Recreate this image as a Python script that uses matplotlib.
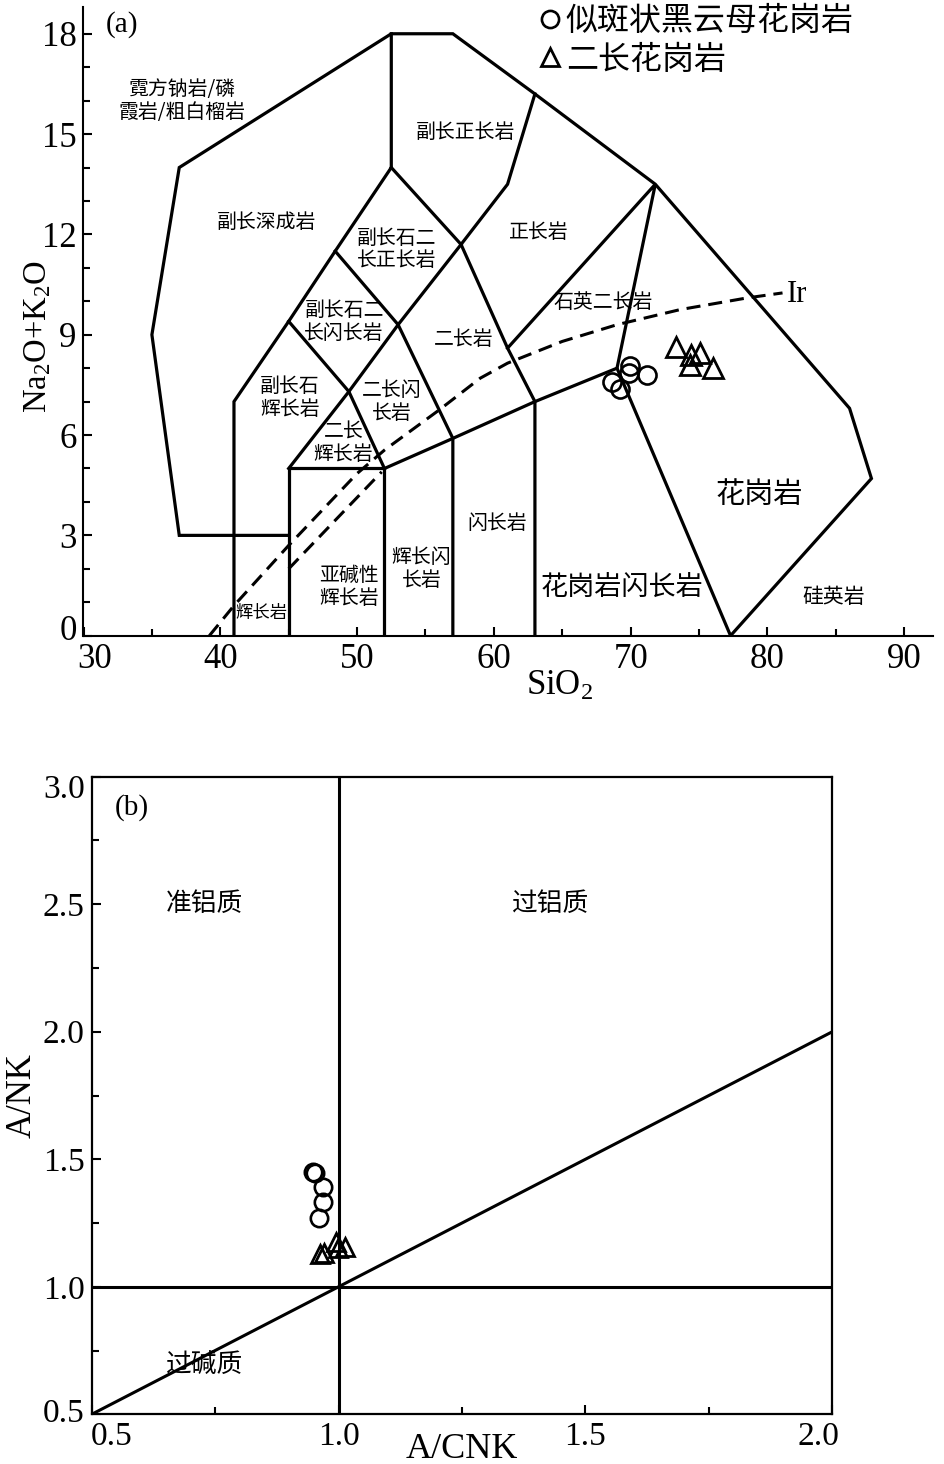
import matplotlib
matplotlib.use('Agg')
import matplotlib.pyplot as plt
import matplotlib.transforms as mtransforms
from matplotlib.ticker import MultipleLocator

plt.rcParams['font.family'] = ['Liberation Serif', 'Noto Sans CJK SC']
plt.rcParams['mathtext.fontset'] = 'custom'
plt.rcParams['mathtext.rm'] = 'Liberation Serif'
plt.rcParams['mathtext.it'] = 'Liberation Serif:italic'
plt.rcParams['mathtext.bf'] = 'Liberation Serif:bold'
CJK = ['Noto Sans CJK SC', 'DejaVu Sans']

# ---------------- (a) TAS diagram data ----------------
tas_lines = [
    [(45, 3), (37, 3), (35, 9), (37, 14), (52.5, 18), (57, 18), (63, 16.2),
     (71.8, 13.5), (86, 6.8), (87.6, 4.7), (77.3, 0)],
    [(41, 0), (41, 7), (45, 9.4), (48.4, 11.5), (52.5, 14), (52.5, 18)],
    [(52.5, 14), (57.6, 11.7), (61, 13.5), (63, 16.2)],
    [(48.4, 11.5), (53, 9.3), (57.6, 11.7)],
    [(45, 9.4), (49.4, 7.3), (52, 5)],
    [(45, 0), (45, 5), (52, 5), (52, 0)],
    [(45, 5), (49.4, 7.3), (53, 9.3), (57, 5.9), (57, 0)],
    [(52, 5), (57, 5.9), (63, 7), (69, 8), (77.3, 0)],
    [(63, 0), (63, 7), (61, 8.6), (57.6, 11.7)],
    [(61, 8.6), (71.8, 13.5), (69, 8)],
]
ir_sio2 = [39.2, 41, 45, 50, 52, 56, 59, 61, 65, 69, 73.6, 78.5, 81.1]
ir_alk = [0, 0.9, 2.7, 4.85, 5.55, 6.75, 7.7, 8.15, 8.8, 9.3, 9.75, 10.1, 10.25]
sub_sio2 = [45, 51.8]
sub_alk = [2.0, 4.9]

tas_names = ['霓方钠岩/磷\n霞岩/粗白榴岩', '副长深成岩', '副长石二\n长正长岩', '副长正长岩',
             '正长岩', '石英二长岩', '副长石二\n长闪长岩', '二长岩', '副长石\n辉长岩',
             '二长闪\n长岩', '二长\n辉长岩', '辉长岩', '亚碱性\n辉长岩', '辉长闪\n长岩',
             '闪长岩', '花岗岩闪长岩', '花岗岩', '硅英岩']
tas_name_x = [37.2, 43.4, 52.9, 57.9, 63.3, 68.0, 49.05, 57.8, 45.1,
              52.5, 49.0, 43.0, 49.4, 54.7, 60.25, 69.4, 79.4, 84.85]
tas_name_y = [16.0, 12.35, 11.55, 15.05, 12.05, 9.95, 9.37, 8.85, 7.1,
              7.0, 5.75, 0.67, 1.47, 2.0, 3.37, 1.42, 4.2, 1.17]
tas_name_size = [14.3, 14.3, 14.3, 14.3, 14.3, 14.3, 14.3, 14.3, 14.3,
                 14.3, 14.3, 12.5, 14.3, 14.3, 14.3, 19.5, 21, 15]

grano_sio2 = [69.98, 69.9, 71.2, 68.6, 69.2]
grano_alk = [8.05, 7.85, 7.8, 7.6, 7.37]
monzo_sio2 = [73.3, 74.4, 75.1, 74.3, 76.0]
monzo_alk = [8.64, 8.4, 8.45, 8.1, 8.0]

series_names = ['似斑状黑云母花岗岩', '二长花岗岩']

# ---------------- (b) A/NK - A/CNK data ----------------
b_vert_x = [1.0, 1.0]
b_vert_y = [0.5, 3.0]
b_hor_x = [0.5, 2.0]
b_hor_y = [1.0, 1.0]
b_diag_x = [0.5, 1.0, 2.0]
b_diag_y = [0.5, 1.0, 2.0]
b_names = ['准铝质', '过铝质', '过碱质']
b_name_x = [0.729, 1.428, 0.726]
b_name_y = [2.50, 2.50, 0.693]

grano_acnk = [0.949, 0.952, 0.969, 0.969, 0.960]
grano_ank = [1.452, 1.446, 1.392, 1.334, 1.269]
monzo_acnk = [0.994, 1.013, 0.970, 0.962, 0.999]
monzo_ank = [1.177, 1.157, 1.131, 1.129, 1.152]

# ---------------- figure ----------------
W, H = 945, 1464
fig = plt.figure(figsize=(W / 100, H / 100), dpi=100)

# axes (a)
ax1 = fig.add_axes([83.5 / W, 1 - 635.7 / H, (933 - 83.5) / W, (635.7 - 7) / H])
ax1.set_xlim(30, 92.1)
ax1.set_ylim(0, 18.8)
for s in ['top', 'right']:
    ax1.spines[s].set_visible(False)
for s in ['left', 'bottom']:
    ax1.spines[s].set_linewidth(1.5)

LW = 2.3
for ln in tas_lines:
    xs = [p[0] for p in ln]
    ys = [p[1] for p in ln]
    ax1.plot(xs, ys, color='black', lw=LW, solid_joinstyle='miter', zorder=2)
ax1.plot(ir_sio2, ir_alk, color='black', lw=2.2, dashes=(4.6, 2.6), zorder=2)
ax1.plot(sub_sio2, sub_alk, color='black', lw=2.2, dashes=(4.6, 2.6), zorder=2)

for t, x, y, fs in zip(tas_names, tas_name_x, tas_name_y, tas_name_size):
    ax1.text(x, y, t, ha='center', va='center', fontsize=fs, family=CJK,
             linespacing=1.12, zorder=3)
ax1.text(81.45, 10.2, 'Ir', ha='left', va='center', fontsize=22,
         family='Liberation Serif')
ax1.text(32.8, 18.27, '(a)', ha='center', va='center', fontsize=21,
         family='Liberation Serif')

h1, = ax1.plot(grano_sio2, grano_alk, 'o', ms=13, mfc='none', mec='black',
               mew=1.9, linestyle='none', zorder=4)
h2, = ax1.plot(monzo_sio2, monzo_alk, '^', ms=14, mfc='none', mec='black',
               mew=2.0, linestyle='none', zorder=4)

leg = ax1.legend([h1, h2], series_names, loc='upper left',
                 bbox_to_anchor=(0.535, 1.003), frameon=False,
                 prop={'family': CJK, 'size': 23}, handlelength=0.75,
                 handletextpad=0.12, labelspacing=0.2, borderpad=0,
                 borderaxespad=0, markerscale=0.95)

ax1.set_xticks([30, 40, 50, 60, 70, 80, 90])
ax1.set_yticks([0, 3, 6, 9, 12, 15, 18])
ax1.xaxis.set_minor_locator(MultipleLocator(5))
ax1.yaxis.set_minor_locator(MultipleLocator(1))
ax1.tick_params(which='both', direction='in', width=1.5, labelsize=25, pad=5)
ax1.tick_params(which='major', length=6.5)
ax1.tick_params(which='minor', length=5)
for lab in ax1.get_xticklabels() + ax1.get_yticklabels():
    lab.set_family('Liberation Serif')

ax1.set_xlabel('SiO$_2$', fontsize=25)
ax1.xaxis.set_label_coords(0.56, -0.055)
ax1.set_ylabel('Na$_2$O+K$_2$O', fontsize=23.5)
ax1.yaxis.set_label_coords(-0.036, 0.475)

# axes (b)
ax2 = fig.add_axes([91.7 / W, 1 - 1414.3 / H, (832.3 - 91.7) / W, (1414.3 - 776.7) / H])
ax2.set_xlim(0.5, 2.0)
ax2.set_ylim(0.5, 3.0)
for s in ax2.spines.values():
    s.set_linewidth(1.6)

ax2.plot(b_vert_x, b_vert_y, color='black', lw=2.2, zorder=2)
ax2.plot(b_hor_x, b_hor_y, color='black', lw=2.2, zorder=2)
ax2.plot(b_diag_x, b_diag_y, color='black', lw=2.2, zorder=2)
for t, x, y in zip(b_names, b_name_x, b_name_y):
    ax2.text(x, y, t, ha='center', va='center', fontsize=18.5, family=CJK)
ax2.text(0.581, 2.88, '(b)', ha='center', va='center', fontsize=21,
         family='Liberation Serif')

ax2.plot(grano_acnk, grano_ank, 'o', ms=12.5, mfc='none', mec='black',
         mew=1.9, linestyle='none', zorder=4)
ax2.plot(monzo_acnk, monzo_ank, '^', ms=13.5, mfc='none', mec='black',
         mew=2.0, linestyle='none', zorder=4)

ax2.set_xticks([0.5, 1.0, 1.5, 2.0])
ax2.set_yticks([0.5, 1.0, 1.5, 2.0, 2.5, 3.0])
ax2.xaxis.set_minor_locator(MultipleLocator(0.25))
ax2.yaxis.set_minor_locator(MultipleLocator(0.25))
ax2.set_xticklabels(['0.5', '1.0', '1.5', '2.0'])
ax2.set_yticklabels(['0.5', '1.0', '1.5', '2.0', '2.5', '3.0'])
ax2.tick_params(which='both', direction='in', width=1.5, labelsize=24, pad=5)
ax2.tick_params(which='major', length=6.5)
ax2.tick_params(which='minor', length=5)
ax2.tick_params(axis='both', which='both', top=False, right=False)
for lab in ax2.get_xticklabels() + ax2.get_yticklabels():
    lab.set_family('Liberation Serif')

ax2.set_xlabel('A/CNK', fontsize=26)
ax2.xaxis.set_label_coords(0.5, -0.03)
ax2.set_ylabel('A/NK', fontsize=25)
ax2.yaxis.set_label_coords(-0.072, 0.5)


def shift(label, dx, dy):
    label.set_transform(label.get_transform() +
                        mtransforms.ScaledTranslation(dx / 100, dy / 100, fig.dpi_scale_trans))


xt1 = ax1.xaxis.get_major_ticks()
yt1 = ax1.yaxis.get_major_ticks()
shift(xt1[0].label1, 11, 0)
shift(yt1[0].label1, 0, 8)
xt2 = ax2.xaxis.get_major_ticks()
yt2 = ax2.yaxis.get_major_ticks()
shift(xt2[0].label1, 20, 0)
shift(xt2[-1].label1, -14, 0)
shift(yt2[0].label1, 0, 4)
shift(yt2[-1].label1, 0, -10)

fig.savefig('out.png', dpi=100)
